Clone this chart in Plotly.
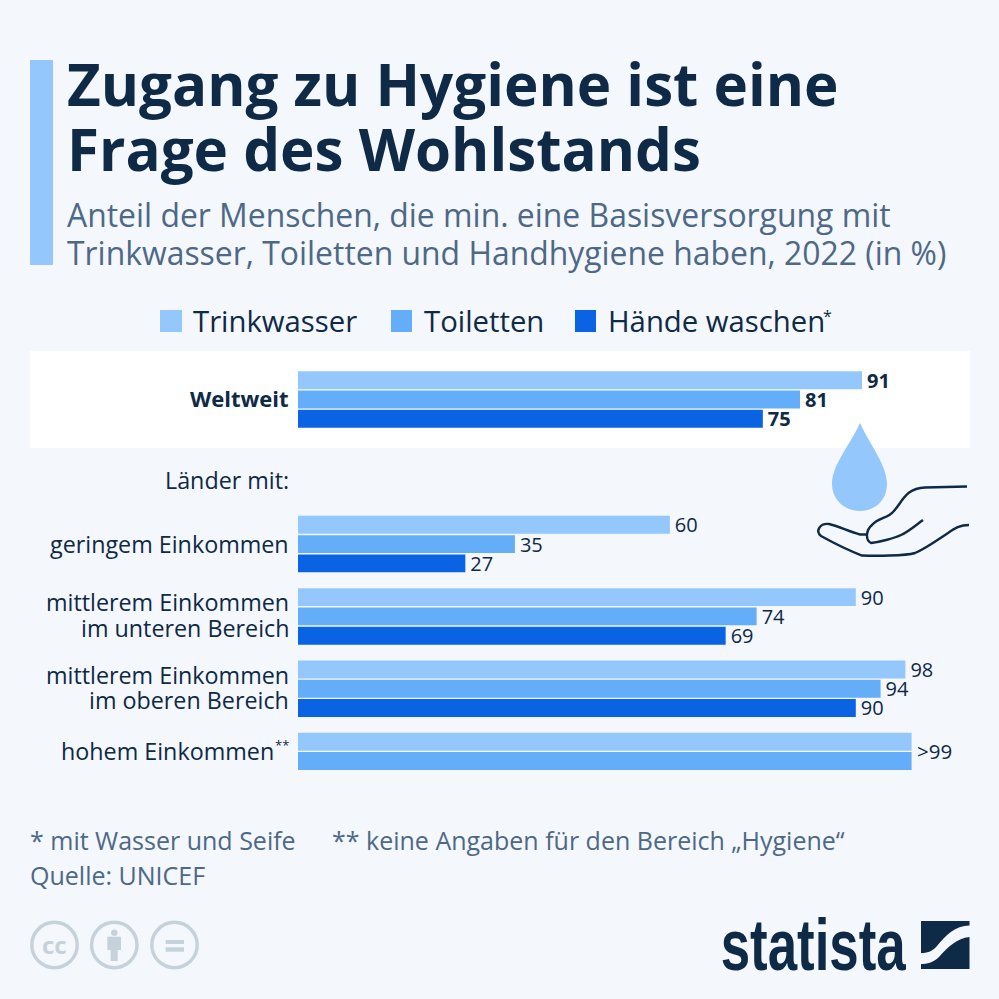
import plotly.graph_objects as go

categories = ["Weltweit", "Länder mit:", "geringem Einkommen", "mittlerem Einkommen unten",
              "mittlerem Einkommen oben", "hohem Einkommen"]
trinkwasser = [91, None, 60, 90, 98, 99]
toiletten = [81, None, 35, 74, 94, 99]
haende = [75, None, 27, 69, 90, None]
series_names = ["Trinkwasser", "Toiletten", "Hände waschen"]
series_colors = ["#94c8fc", "#64adf9", "#0963e3"]

NAVY = "#0f2a47"
SLATE = "#4d6987"
GREY = "#c5d2da"
BG = "#f4f7fb"
F = "Open Sans"
W = H = 999


def X(p):
    return p / W


def Y(p):
    return 1 - p / H


def path(cmds):
    out = []
    for c in cmds:
        pts = c[1:]
        s = c[0]
        for i in range(0, len(pts), 2):
            s += f"{X(pts[i]):.5f},{Y(pts[i + 1]):.5f} "
        out.append(s)
    return "".join(out)


def labels(vals):
    res = []
    for i, v in enumerate(vals):
        if v is None or categories[i] == "hohem Einkommen":
            res.append(None)
        elif i == 0:
            res.append(f"\u200a<b>{v}</b>")
        else:
            res.append(f"\u200a{v}")
    return res


fig = go.Figure()
for name, vals, col in zip(series_names, [trinkwasser, toiletten, haende], series_colors):
    fig.add_bar(y=categories, x=vals, name=name, orientation="h", marker=dict(color=col, line_width=0),
                text=labels(vals), textposition="outside", cliponaxis=False, constraintext="none",
                textfont=dict(family=F, size=20, color=NAVY), showlegend=False)

shapes = []


def rect(x0, y0, x1, y1, color, layer="above"):
    shapes.append(dict(type="rect", xref="paper", yref="paper", x0=X(x0), x1=X(x1), y0=Y(y0), y1=Y(y1),
                       fillcolor=color, line_width=0, layer=layer))


def circle(cx, cy, r, fill=None, line=None, lw=0):
    shapes.append(dict(type="circle", xref="paper", yref="paper", x0=X(cx - r), x1=X(cx + r), y0=Y(cy + r),
                       y1=Y(cy - r), fillcolor=fill or "rgba(0,0,0,0)", line=dict(color=line or "rgba(0,0,0,0)", width=lw)))


def draw(cmds, fill=None, line=None, lw=0):
    shapes.append(dict(type="path", xref="paper", yref="paper", path=path(cmds),
                       fillcolor=fill or "rgba(0,0,0,0)", line=dict(color=line or "rgba(0,0,0,0)", width=lw)))


rect(30, 60, 53, 265, series_colors[0], "below")
rect(30, 351, 970, 448, "#ffffff", "below")
rect(160, 310, 182, 332, series_colors[0])
rect(391, 310, 412, 332, series_colors[1])
rect(575, 310, 596, 332, series_colors[2])

draw([("M", 860, 423), ("C", 850, 445, 832, 465, 832, 484), ("C", 832, 500, 845, 511, 860, 511),
      ("C", 875, 511, 887, 500, 887, 484), ("C", 887, 465, 870, 445, 860, 423), ("Z",)], fill=series_colors[0])
draw([("M", 967, 486.5), ("L", 925, 487.5), ("C", 905, 488, 902, 503, 893, 512), ("C", 888, 518, 878, 518, 872, 525),
      ("C", 866, 530, 865, 540, 871, 543), ("C", 880, 542, 895, 538, 901, 535), ("C", 908, 532, 916, 525, 923, 520)],
     line=NAVY, lw=2.4)
draw([("M", 969, 525), ("C", 960, 525, 955, 528, 948, 533), ("C", 936, 541, 925, 549, 915, 553),
      ("C", 905, 556, 875, 556, 862, 555.5), ("C", 850, 551, 830, 541, 821, 536),
      ("C", 815, 531, 820, 523, 829, 524), ("C", 838, 526, 850, 532, 860, 534.5), ("L", 868, 534.5)],
     line=NAVY, lw=2.4)

for cx in (54.5, 114.3, 174.5):
    circle(cx, 945, 22.7, line=GREY, lw=3.4)
circle(114.3, 932.7, 3.2, fill=GREY)
rect(107.3, 936.7, 121, 950, GREY)
rect(110.7, 950, 117.7, 961, GREY)
rect(165.7, 940, 184, 944, GREY)
rect(165.7, 947.3, 184, 951.7, GREY)

draw([("M", 921, 921), ("L", 969.5, 921), ("L", 969.5, 925.5), ("C", 955, 926, 946, 935, 937, 946),
      ("C", 932, 952, 927, 953, 921, 953), ("Z",)], fill=NAVY)
draw([("M", 969.5, 937), ("C", 957, 938, 948, 947, 939, 957), ("C", 933, 963, 927, 964, 921, 964),
      ("L", 921, 969), ("L", 969.5, 969), ("Z",)], fill=NAVY)

ann = []


def page_text(x, y, text, size, color, anchor="left", family=F):
    ann.append(dict(xref="paper", yref="paper", x=X(x), y=Y(y), text=text, showarrow=False, xanchor=anchor,
                    yanchor="middle", align=anchor, font=dict(family=family, size=size, color=color)))


def cat_text(cat, text, size=23.3, shift=0, x=291, color=NAVY, anchor="right"):
    ann.append(dict(xref="paper", yref="y", x=X(x), y=cat, yshift=shift, text=text, showarrow=False,
                    xanchor=anchor, yanchor="middle", align=anchor, font=dict(family=F, size=size, color=color)))


page_text(65, 84, "<b>Zugang zu Hygiene ist eine</b>", 58.3, NAVY)
page_text(65, 148, "<b>Frage des Wohlstands</b>", 58.3, NAVY)
page_text(65, 214, "Anteil der Menschen, die min. eine Basisversorgung mit", 31.9, SLATE)
page_text(65, 253, "Trinkwasser, Toiletten und Handhygiene haben, 2022 (in %)", 31.9, SLATE)
page_text(191, 321, "Trinkwasser", 29.3, NAVY)
page_text(422, 321, "Toiletten", 29.3, NAVY)
page_text(606, 321, "Hände waschen", 29.3, NAVY)
page_text(821, 316, "*", 16, NAVY)

cat_text("Weltweit", "<b>Weltweit</b>", size=22, shift=2)
cat_text("Länder mit:", "Länder mit:", shift=-8)
cat_text("geringem Einkommen", "geringem Einkommen")
cat_text("mittlerem Einkommen unten", "mittlerem Einkommen", shift=14)
cat_text("mittlerem Einkommen unten", "im unteren Bereich", shift=-12)
cat_text("mittlerem Einkommen oben", "mittlerem Einkommen", shift=14)
cat_text("mittlerem Einkommen oben", "im oberen Bereich", shift=-11)
cat_text("hohem Einkommen", "hohem Einkommen", shift=10, x=276)
cat_text("hohem Einkommen", "**", size=13, shift=16, x=273, anchor="left")
cat_text("hohem Einkommen", "&gt;99", size=20.5, shift=10, x=915, anchor="left")

page_text(28, 840, "* mit Wasser und Seife", 25, SLATE)
page_text(330, 840, "** keine Angaben für den Bereich „Hygiene“", 25, SLATE)
page_text(28, 875, "Quelle: UNICEF", 25, SLATE)
page_text(54.5, 944, "<b>cc</b>", 24, GREY, "center")
page_text(813.5, 945, "<b>statista</b>", 72, NAVY, "center", "Liberation Sans")

PX_PER_UNIT = 564 / 91
PITCH = 72.3
Y_TOP, Y_BOT = 350, 790
BASE = 399.5
fig.update_layout(
    width=W, height=H, margin=dict(l=0, r=0, t=0, b=0), autosize=False,
    paper_bgcolor=BG, plot_bgcolor="rgba(0,0,0,0)",
    barmode="group", bargap=0.2, bargroupgap=0.07,
    shapes=shapes, annotations=ann,
    xaxis=dict(domain=[X(298), X(970)], range=[0, (970 - 298) / PX_PER_UNIT], visible=False),
    yaxis=dict(domain=[Y(Y_BOT), Y(Y_TOP)], range=[(Y_BOT - BASE) / PITCH, (Y_TOP - BASE) / PITCH],
               type="category", categoryorder="array", categoryarray=categories, visible=False),
)
post = """
document.body.style.margin='0';document.body.style.background='#f4f7fb';
document.querySelectorAll('.annotation-text').forEach(function(t){
  if(t.textContent==='statista'){
    t.style.transformBox='fill-box';t.style.transformOrigin='center';t.style.transform='scaleX(0.734)';
  }
});
"""
fig.write_html("out.html", post_script=post, config={"displayModeBar": False})
